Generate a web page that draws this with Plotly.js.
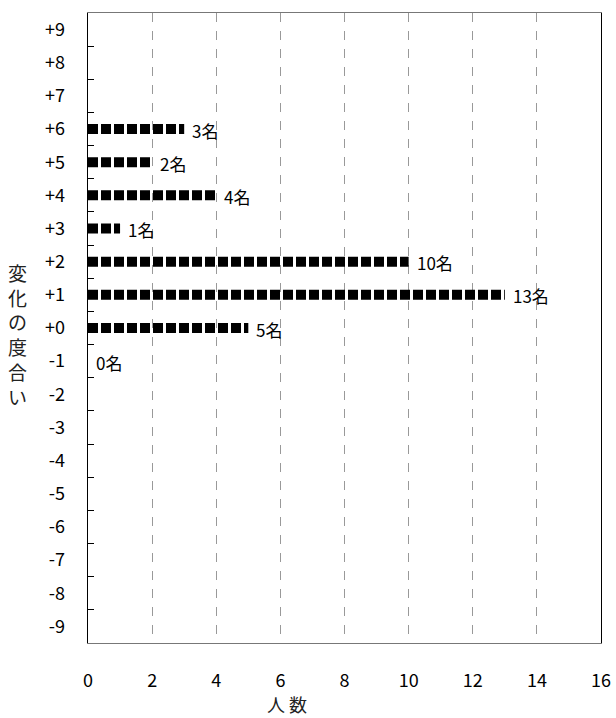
<!DOCTYPE html>
<html><head><meta charset="utf-8">
<script src="https://cdn.plot.ly/plotly-3.0.1.min.js"></script>
<style>body{margin:0;background:#fff}#chart{width:616px;height:718px}</style>
</head><body><div id="chart"></div>
<script>
const categories = ["+9","+8","+7","+6","+5","+4","+3","+2","+1","+0","-1","-2","-3","-4","-5","-6","-7","-8","-9"];
const labeledCats = ["+6","+5","+4","+3","+2","+1","+0","-1"];
const counts = [3,2,4,1,10,13,5,0];
const xTicks = [0,2,4,6,8,10,12,14,16];
const xTitle = "人 数";
const yTitle = "変化の度合い";

const catOrder = categories.slice().reverse();
const lx = [], ly = [];
labeledCats.forEach((c,i)=>{ if(counts[i]>0){ lx.push(0, counts[i], null); ly.push(c, c, null);} });

const font = "'Noto Sans CJK JP', 'Noto Sans', sans-serif";
const traces = [{
  type:'scatter', mode:'lines', x:lx, y:ly,
  line:{color:'#000', width:10, dash:'10px,3px'},
  hoverinfo:'skip', showlegend:false, connectgaps:false
}];

const annotations = labeledCats.map((c,i)=>({
  x:counts[i], y:catOrder.indexOf(c), xref:'x', yref:'y', text:counts[i]+'名',
  showarrow:false, xanchor:'left', yanchor:'middle', xshift:6, yshift:-1,
  font:{size:17, color:'#000', family:font}
}));
annotations.push({xref:'paper', yref:'paper', x:(287-88)/513, y:(643-704)/630, text:xTitle, showarrow:false, xanchor:'center', yanchor:'middle', font:{size:18,color:'#222',family:font}});
annotations.push({xref:'paper', yref:'paper', x:(17-88)/513, y:(643-334)/630, text:yTitle.split('').join('<br>'), showarrow:false, xanchor:'center', yanchor:'middle', font:{size:19,color:'#222',family:font}});

const layout = {
  width:616, height:718,
  margin:{l:88, r:15, t:13, b:75},
  paper_bgcolor:'#fff', plot_bgcolor:'#fff',
  font:{family:font, size:18, color:'#000'},
  xaxis:{range:[0,16], tickvals:xTicks, ticktext:xTicks.map(String), ticks:'', showline:true, mirror:true,
    linecolor:'#777', linewidth:1.3, showgrid:true, gridcolor:'#999', griddash:'dash', gridwidth:1,
    zeroline:false, ticklabelstandoff:21, tickfont:{size:18, family:font}, fixedrange:true},
  yaxis:{type:'category', categoryorder:'array', categoryarray:catOrder,
    range:[-0.5,18.5], tickson:'boundaries', ticks:'inside', ticklen:6, tickcolor:'#000',
    showline:true, mirror:true, linecolor:'#000', linewidth:1.3, showgrid:false, zeroline:false,
    ticklabelstandoff:18, tickfont:{size:18, family:font}, fixedrange:true},
  annotations:annotations
};
Plotly.newPlot('chart', traces, layout, {displayModeBar:false, staticPlot:true});
</script></body></html>
